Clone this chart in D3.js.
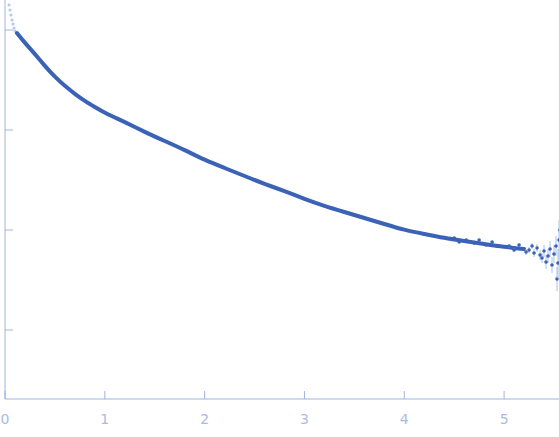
<!DOCTYPE html>
<html><head><meta charset="utf-8">
<script src="https://cdn.jsdelivr.net/npm/d3@7"></script>
<style>body{margin:0;background:#fff}</style></head>
<body><svg id="chart" width="559" height="437"></svg>
<script>
// s (1/nm) and log10 intensity
const sMain = [0.12,0.2,0.3,0.4,0.5,0.6,0.7,0.8,0.9,1.0,1.2,1.4,1.6,1.8,2.0,2.2,2.4,2.6,2.8,3.0,3.2,3.4,3.6,3.8,4.0,4.2,4.4,4.6,4.8,5.0,5.2];
const logMain = [0.97,0.87,0.76,0.64,0.53,0.44,0.36,0.29,0.23,0.17,0.08,-0.02,-0.11,-0.2,-0.3,-0.38,-0.46,-0.54,-0.61,-0.69,-0.76,-0.82,-0.88,-0.94,-1.0,-1.04,-1.08,-1.11,-1.14,-1.17,-1.19];
const sTail = [4.5,4.55,4.62,4.7,4.75,4.82,4.88,4.93,5.05,5.1,5.15,5.22,5.25,5.28,5.3,5.33,5.36,5.38,5.4,5.42,5.44,5.46,5.48,5.5,5.52,5.53,5.54,5.55,5.56];
const logTail = [-1.08,-1.12,-1.1,-1.13,-1.1,-1.15,-1.12,-1.16,-1.16,-1.2,-1.15,-1.22,-1.2,-1.16,-1.23,-1.18,-1.25,-1.28,-1.21,-1.32,-1.26,-1.19,-1.35,-1.24,-1.16,-1.49,-1.33,-1.1,-1.0];
const errTail = [0.01,0.01,0.01,0.01,0.01,0.01,0.01,0.01,0.02,0.02,0.02,0.03,0.03,0.03,0.04,0.04,0.05,0.05,0.06,0.07,0.07,0.08,0.08,0.09,0.1,0.12,0.14,0.2,0.5];
const sExcl = [0.04,0.05,0.06,0.07,0.08,0.09,0.1];
const logExcl = [1.25,1.2,1.15,1.1,1.06,1.02,0.99];
const xTicks = [0,1,2,3,4,5];
const yTicks = [-2,-1,0,1];

const svg = d3.select("#chart");
const x = d3.scaleLinear().domain([0,5.55]).range([5,559]);
const y = d3.scaleLinear().domain([-2.69,1.3]).range([399,0]);
const axisCol = "#9fb4e2", dot = "#3a62b6";

svg.append("line").attr("x1",5).attr("x2",5).attr("y1",0).attr("y2",399).attr("stroke",axisCol);
svg.append("line").attr("x1",5).attr("x2",559).attr("y1",399).attr("y2",399).attr("stroke",axisCol);
svg.selectAll(".yt").data(yTicks).enter().append("line")
  .attr("x1",5).attr("x2",13).attr("y1",d=>y(d)).attr("y2",d=>y(d)).attr("stroke",axisCol);
svg.selectAll(".xt").data(xTicks).enter().append("line")
  .attr("x1",d=>x(d)).attr("x2",d=>x(d)).attr("y1",391).attr("y2",399).attr("stroke",axisCol);
svg.selectAll(".xl").data(xTicks).enter().append("text")
  .attr("x",d=>x(d)).attr("y",424).attr("text-anchor","middle")
  .attr("font-family","DejaVu Sans").attr("font-size",14).attr("fill","#a9bbe4").text(d=>d);

// excluded points
svg.selectAll(".ex").data(sExcl).enter().append("circle")
  .attr("cx",d=>x(d)).attr("cy",(d,i)=>y(logExcl[i])).attr("r",1.6).attr("fill","#b9c8ea");

// dense smooth part drawn as a thick band
const line = d3.line().x(d=>x(d[0])).y(d=>y(d[1])).curve(d3.curveBasis);
svg.append("path").datum(sMain.map((s,i)=>[s,logMain[i]]))
  .attr("d",line).attr("fill","none").attr("stroke",dot).attr("stroke-width",4).attr("stroke-linecap","round");

// noisy tail
svg.selectAll(".er").data(sTail).enter().append("line")
  .attr("x1",d=>x(d)).attr("x2",d=>x(d))
  .attr("y1",(d,i)=>y(logTail[i]+errTail[i])).attr("y2",(d,i)=>y(logTail[i]-errTail[i]))
  .attr("stroke","#aabde6");
svg.selectAll(".tp").data(sTail).enter().append("circle")
  .attr("cx",d=>x(d)).attr("cy",(d,i)=>y(logTail[i])).attr("r",1.8).attr("fill",dot);
</script></body></html>
